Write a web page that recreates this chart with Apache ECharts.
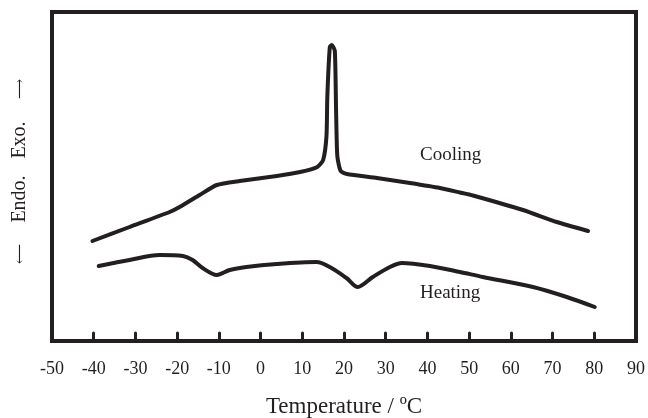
<!DOCTYPE html>
<html>
<head>
<meta charset="utf-8">
<script src="https://cdn.jsdelivr.net/npm/echarts@6/dist/echarts.min.js"></script>
<style>
  html, body { margin: 0; padding: 0; background: #fff; }
  #chart { width: 648px; height: 418px; }
</style>
</head>
<body>
<div id="chart"></div>
<script>
// x: temperature (ºC), y: arbitrary heat flow units
var xTicks = [-40, -30, -20, -10, 0, 10, 20, 30, 40, 50, 60, 70, 80];
var xLabels = [-50, -40, -30, -20, -10, 0, 10, 20, 30, 40, 50, 60, 70, 80, 90];

var cooling = [
  [-40.3, 100], [-31.4, 114], [-21.8, 129], [-19.4, 134], [-14.6, 146],
  [-10.5, 156], [-5, 160], [3.9, 165], [9.5, 169], [13.6, 174], [15.0, 181],
  [15.8, 205], [16.0, 244], [16.6, 294], [17.1, 296], [17.8, 290],
  [18.1, 231], [18.4, 185], [19.2, 170], [20.7, 167], [27.9, 163],
  [35.8, 158], [43, 153], [47.8, 148.5], [50.9, 145.5], [62.9, 131],
  [71, 119], [78.5, 110]
];

var heating = [
  [-38.8, 75], [-31.4, 81], [-24.2, 86], [-18.6, 85], [-16.3, 81],
  [-13.9, 73], [-10.5, 66], [-7.4, 71], [-3.4, 74], [3.9, 77], [13.4, 79],
  [16.6, 74], [20.6, 63], [23.3, 54], [26.9, 64], [31, 74], [33.9, 78],
  [40.6, 75], [47.8, 69], [53.3, 64], [65.3, 54], [73.4, 44], [80.1, 34]
];

var ink = '#231f20';
var serif = '"Liberation Serif", "DejaVu Serif", serif';

var chart = echarts.init(document.getElementById('chart'));

var rotText = function(text, x, y, size) {
  return {
    type: 'text',
    x: x,
    y: y,
    rotation: Math.PI / 2,
    style: {
      text: text,
      fill: ink,
      font: size + 'px ' + serif,
      align: 'center',
      verticalAlign: 'middle'
    }
  };
};

var option = {
  animation: false,
  grid: {
    left: 52, right: 12, top: 12, bottom: 77,
    outerBoundsMode: 'none',
    containLabel: false,
    show: true,
    borderColor: ink,
    borderWidth: 4,
    backgroundColor: 'transparent'
  },
  xAxis: {
    type: 'value',
    min: -50,
    max: 90,
    interval: 10,
    name: 'Temperature / ºC',
    nameLocation: 'middle',
    nameGap: 54,
    nameTextStyle: { color: ink, fontFamily: serif, fontSize: 23 },
    splitLine: { show: false },
    axisLine: { lineStyle: { color: ink, width: 4 } },
    axisTick: {
      inside: true,
      length: 8,
      customValues: xTicks,
      lineStyle: { color: ink, width: 3, cap: 'round' }
    },
    axisLabel: {
      customValues: xLabels,
      margin: 19,
      color: ink,
      fontFamily: serif,
      fontSize: 18
    }
  },
  yAxis: {
    type: 'value',
    min: 0,
    max: 329,
    show: false
  },
  series: [
    {
      name: 'Cooling',
      type: 'line',
      data: cooling,
      showSymbol: false,
      smooth: 0.2,
      lineStyle: { color: ink, width: 4, join: 'round', cap: 'round' }
    },
    {
      name: 'Heating',
      type: 'line',
      data: heating,
      showSymbol: false,
      smooth: 0.3,
      lineStyle: { color: ink, width: 4, join: 'round', cap: 'round' }
    }
  ],
  graphic: [
    {
      type: 'text', x: 420, y: 155,
      style: { text: 'Cooling', fill: ink, font: '19px ' + serif, verticalAlign: 'middle' }
    },
    {
      type: 'text', x: 420, y: 293,
      style: { text: 'Heating', fill: ink, font: '19px ' + serif, verticalAlign: 'middle' }
    },
    rotText('⟵', 20, 254, 14),
    rotText('Endo.', 20, 199, 20),
    rotText('Exo.', 20, 140, 20),
    rotText('⟶', 20, 89, 14)
  ]
};

chart.setOption(option);
</script>
</body>
</html>
